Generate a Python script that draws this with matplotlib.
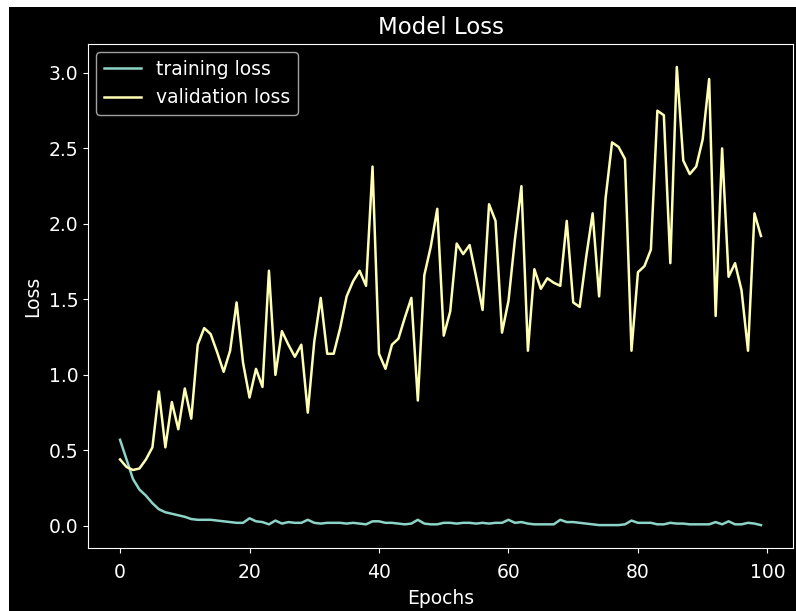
import matplotlib
matplotlib.use('Agg')
import matplotlib.pyplot as plt
from matplotlib.patches import Rectangle
import numpy as np

epochs=np.arange(100)

train_loss=[0.57,0.44,0.31,0.24,0.20,0.15,0.11,0.09,0.08,0.07,
            0.06,0.045,0.04,0.04,0.04,0.035,0.03,0.025,0.02,0.02,
            0.05,0.03,0.025,0.01,0.035,0.015,0.025,0.02,0.02,0.04,
            0.02,0.015,0.02,0.02,0.02,0.015,0.02,0.015,0.01,0.03,
            0.03,0.02,0.02,0.015,0.01,0.015,0.04,0.015,0.01,0.01,
            0.02,0.02,0.015,0.02,0.02,0.015,0.02,0.015,0.02,0.02,
            0.04,0.02,0.025,0.015,0.01,0.01,0.01,0.01,0.04,0.025,
            0.025,0.02,0.015,0.01,0.005,0.005,0.005,0.005,0.01,0.035,
            0.02,0.02,0.02,0.01,0.01,0.02,0.015,0.015,0.01,0.01,
            0.01,0.01,0.025,0.01,0.03,0.01,0.01,0.02,0.015,0.005]

val_loss=[0.44,0.39,0.37,0.38,0.44,0.52,0.89,0.52,0.82,0.64,
          0.91,0.71,1.20,1.31,1.27,1.15,1.02,1.16,1.48,1.08,
          0.85,1.04,0.92,1.69,1.00,1.29,1.20,1.12,1.20,0.75,
          1.22,1.51,1.14,1.14,1.31,1.52,1.62,1.69,1.59,2.38,
          1.14,1.04,1.20,1.24,1.38,1.51,0.83,1.66,1.85,2.10,
          1.26,1.42,1.87,1.80,1.86,1.65,1.43,2.13,2.02,1.28,
          1.49,1.90,2.25,1.16,1.70,1.57,1.64,1.61,1.59,2.02,
          1.48,1.45,1.78,2.07,1.52,2.17,2.54,2.51,2.43,1.16,
          1.68,1.72,1.83,2.75,2.72,1.74,3.04,2.42,2.33,2.38,
          2.56,2.96,1.39,2.50,1.65,1.74,1.56,1.16,2.07,1.92]

plt.style.use('dark_background')

fig=plt.figure(figsize=(7.96,6.11),dpi=100)
fig.patch.set_facecolor('white')
#the screenshot has a thin white strip on the left and top
fig.patches.append(Rectangle((9/796,0),1,1-7/611,transform=fig.transFigure,
                             facecolor='black',edgecolor='none',zorder=-10))

ax=fig.add_axes([88/796,(611-548)/611,(793-88)/796,(548-44)/611])
ax.set_facecolor('black')

ax.plot(epochs,train_loss,label='training loss',lw=1.8)
ax.plot(epochs,val_loss,label='validation loss',lw=1.8)

ax.set_title('Model Loss',fontsize=16.5,pad=7)
ax.set_xlabel('Epochs',fontsize=13.5,labelpad=5)
ax.set_ylabel('Loss',fontsize=13.5,labelpad=5)
ax.tick_params(labelsize=13.5)
ax.tick_params(axis='x',pad=7)
ax.set_xticks([0,20,40,60,80,100])
ax.set_yticks([0.0,0.5,1.0,1.5,2.0,2.5,3.0])
ax.legend(loc='upper left',fontsize=13.5,borderaxespad=0.45)

fig.savefig('out.png',dpi=100,facecolor=fig.get_facecolor())
